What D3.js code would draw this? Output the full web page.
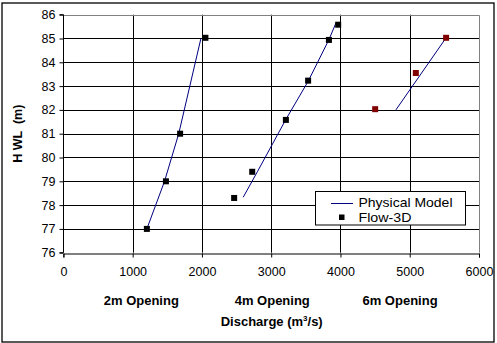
<!DOCTYPE html>
<html>
<head>
<meta charset="utf-8">
<script src="https://cdn.jsdelivr.net/npm/d3@7"></script>
<style>
  html, body { margin: 0; padding: 0; background: #fff; }
  svg { display: block; font-family: "Liberation Sans", Arial, sans-serif; }
</style>
</head>
<body>
<svg id="chart" width="497" height="343"></svg>
<script>
// Head water level vs discharge for three gate openings
const openings = ["2m Opening", "4m Opening", "6m Opening"];

// Physical model curves [discharge, HWL]
const physical2m = [[1205, 77], [1460, 79], [1665, 81], [1985, 85]];
const physical4m = [[2596, 78.33], [2800, 79.4], [3212, 81.6], [3533, 83.2], [3833, 84.95], [3935, 85.65]];
const physical6m = [[4800, 82], [5525, 85.03]];

// Flow-3D simulation results [discharge, HWL]
const flow2m = [[1205, 77], [1480, 79], [1685, 81], [2050, 85.03]];
const flow4m = [[2465, 78.3], [2726, 79.4], [3212, 81.58], [3533, 83.23], [3833, 84.94], [3967, 85.58]];
const flow6m = [[4501, 82.03], [5088, 83.55], [5525, 85.03]];

const xTicks = [0, 1000, 2000, 3000, 4000, 5000, 6000];
const yTicks = [76, 77, 78, 79, 80, 81, 82, 83, 84, 85, 86];
const openingCentres = [1125, 3015, 4860];

const svg = d3.select("#chart");

// Outer chart frame
svg.append("rect")
  .attr("x", 2).attr("y", 3).attr("width", 492).attr("height", 339)
  .attr("fill", "#fff").attr("stroke", "#000").attr("stroke-width", 1.3);

const x = d3.scaleLinear().domain([0, 6000]).range([63.4, 479]);
const y = d3.scaleLinear().domain([76, 86]).range([252.7, 14.7]);

// Gridlines
svg.append("g").selectAll("line").data(yTicks.slice(1, -1)).join("line")
  .attr("x1", x(0)).attr("x2", x(6000))
  .attr("y1", d => Math.round(y(d)) + 0.5).attr("y2", d => Math.round(y(d)) + 0.5)
  .attr("stroke", "#000").attr("stroke-width", 1);
svg.append("g").selectAll("line").data(xTicks.slice(1, -1)).join("line")
  .attr("x1", d => Math.round(x(d)) + 0.5).attr("x2", d => Math.round(x(d)) + 0.5)
  .attr("y1", y(86)).attr("y2", y(76))
  .attr("stroke", "#000").attr("stroke-width", 1);

// Plot-area border (top & right in grey)
svg.append("path")
  .attr("d", `M${x(0)},${Math.round(y(86)) + 0.5}H${Math.round(x(6000)) + 0.5}V${y(76)}`)
  .attr("fill", "none").attr("stroke", "#808080").attr("stroke-width", 1);

// Axes
const xAxis = svg.append("g")
  .attr("transform", `translate(0,${Math.round(y(76)) + 0.5})`)
  .call(d3.axisBottom(x).tickValues(xTicks).tickSize(4).tickPadding(10).tickFormat(d3.format("d")));
const yAxis = svg.append("g")
  .attr("transform", `translate(${Math.round(x(0)) + 0.5},0)`)
  .call(d3.axisLeft(y).tickValues(yTicks).tickSize(4).tickPadding(4).tickFormat(d3.format("d")));

[xAxis, yAxis].forEach(g => {
  g.select(".domain").attr("stroke", "#000");
  g.selectAll(".tick line").attr("stroke", "#000");
  g.selectAll(".tick text").attr("fill", "#000")
    .style("font-family", "'Liberation Sans', Arial, sans-serif").style("font-size", "12.5px");
});
yAxis.select(".domain").attr("d", `M-4,${y(86)}H0V${y(76)}H-4`);

// Physical model lines
const line = d3.line().x(d => x(d[0])).y(d => y(d[1]));
[physical2m, physical4m, physical6m].forEach(s => {
  svg.append("path").datum(s).attr("d", line)
    .attr("fill", "none").attr("stroke", "#000080").attr("stroke-width", 1);
});

// Flow-3D markers
const sq = 6;
[[flow2m, "#000"], [flow4m, "#000"], [flow6m, "#800000"]].forEach(([s, c]) => {
  svg.append("g").selectAll("rect").data(s).join("rect")
    .attr("x", d => x(d[0]) - sq / 2).attr("y", d => y(d[1]) - sq / 2)
    .attr("width", sq).attr("height", sq).attr("fill", c);
});

// Opening labels under the axis
svg.append("g").selectAll("text").data(openings).join("text")
  .attr("x", (d, i) => x(openingCentres[i])).attr("y", 304.5)
  .attr("text-anchor", "middle").attr("font-weight", "bold").attr("font-size", 13)
  .text(d => d);

// Axis titles
const xt = svg.append("text").attr("x", x(3000) + 0.5).attr("y", 326)
  .attr("text-anchor", "middle").attr("font-weight", "bold").attr("font-size", 13);
xt.append("tspan").text("Discharge (m");
xt.append("tspan").attr("font-size", 8).attr("dy", -5).text("3");
xt.append("tspan").attr("dy", 5).text("/s)");

svg.append("text")
  .attr("transform", `translate(22,${y(81)}) rotate(-90)`)
  .attr("text-anchor", "middle").attr("font-weight", "bold").attr("font-size", 12.5)
  .attr("xml:space", "preserve")
  .text("H WL  (m)");

// Legend
const lg = svg.append("g");
lg.append("rect").attr("x", 315.5).attr("y", 191.5).attr("width", 150).attr("height", 33.5)
  .attr("fill", "#fff").attr("stroke", "#000").attr("stroke-width", 1);
lg.append("line").attr("x1", 331).attr("x2", 353).attr("y1", 203.5).attr("y2", 203.5)
  .attr("stroke", "#000080").attr("stroke-width", 1);
lg.append("rect").attr("x", 339).attr("y", 214.5).attr("width", 5.5).attr("height", 5.5).attr("fill", "#000");
lg.append("text").attr("x", 358.5).attr("y", 206.5).attr("font-size", 13)
  .attr("textLength", 94).attr("lengthAdjust", "spacingAndGlyphs").text("Physical Model");
lg.append("text").attr("x", 358.5).attr("y", 221.5).attr("font-size", 13)
  .attr("textLength", 53).attr("lengthAdjust", "spacingAndGlyphs").text("Flow-3D");
</script>
</body>
</html>
